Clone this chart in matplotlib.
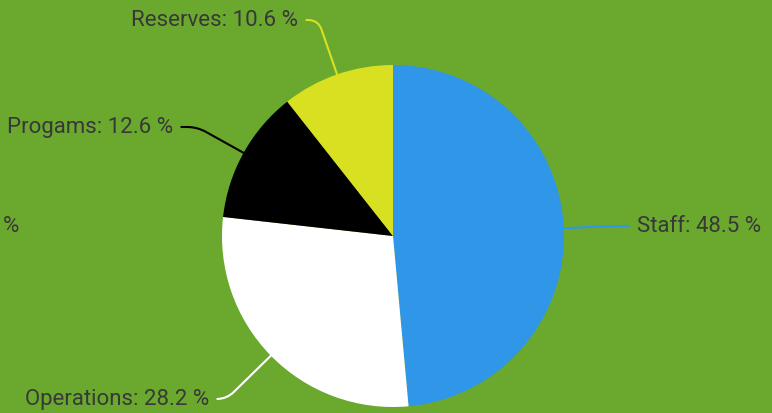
import numpy as np
import matplotlib.pyplot as plt

# data
labels = ['Staff', 'Operations', 'Progams', 'Reserves']
shares = [48.5, 28.2, 12.6, 10.6]
colors = ['#3096e8', '#ffffff', '#000000', '#d8e021']

# label anchor spots (pixels, origin bottom-left) and alignment
label_pos = [(637, 187), (209, 14), (173, 286), (298, 393)]
label_ha = ['left', 'right', 'right', 'right']

bg = '#6aa92e'
txt_col = '#383838'
plt.rcParams['font.family'] = ['Roboto', 'DejaVu Sans']

fig = plt.figure(figsize=(7.72, 4.13), dpi=100, facecolor=bg)
ax = fig.add_axes([0, 0, 1, 1])
ax.set_facecolor(bg)

cx, cy, r = 393, 177, 171
wedges, _ = ax.pie(shares, colors=colors, startangle=90, counterclock=False,
                   center=(cx, cy), radius=r, wedgeprops=dict(linewidth=0))

for w, lab, val, pos, ha, col in zip(wedges, labels, shares, label_pos, label_ha, colors):
    mid = np.deg2rad((w.theta1 + w.theta2) / 2)
    px, py = cx + r * np.cos(mid), cy + r * np.sin(mid)
    ax.annotate(f'{lab}: {val} %', xy=(px, py), xytext=pos, ha=ha, va='center',
                fontsize=16, color=txt_col,
                arrowprops=dict(arrowstyle='-', color=col, lw=1.5, shrinkA=4, shrinkB=0,
                                connectionstyle=f'angle,angleA=0,angleB={np.rad2deg(mid):.1f},rad=10'))

# clipped label stub at far left
ax.text(3, 187, '%', ha='left', va='center', fontsize=16, color=txt_col)

ax.set_xlim(0, 772)
ax.set_ylim(0, 413)
ax.set_aspect('auto')
ax.axis('off')

fig.savefig('out.png', dpi=100, facecolor=bg)
